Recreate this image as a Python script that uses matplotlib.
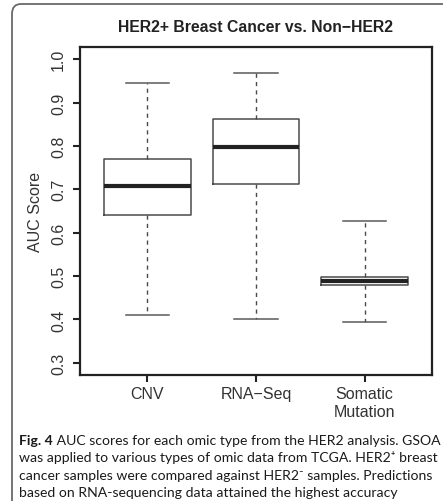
import matplotlib
matplotlib.use("Agg")
import matplotlib.pyplot as plt
from matplotlib.patches import FancyBboxPatch

# AUC summaries per omic type (box-and-whisker statistics)
categories = ["CNV", "RNA\u2212Seq", "Somatic\nMutation"]
whisker_low = [0.411, 0.402, 0.394]
quartile1 = [0.640, 0.712, 0.480]
medians = [0.708, 0.797, 0.489]
quartile3 = [0.770, 0.863, 0.499]
whisker_high = [0.946, 0.969, 0.626]
yticks = [0.3, 0.4, 0.5, 0.6, 0.7, 0.8, 0.9, 1.0]

caption_lines = [
    ("Fig. 4", " AUC scores for each omic type from the HER2 analysis. GSOA"),
    ("", "was applied to various types of omic data from TCGA. HER2\u207a breast"),
    ("", "cancer samples were compared against HER2\u207b samples. Predictions"),
    ("", "based on RNA-sequencing data attained the highest accuracy"),
]

W, H = 443, 502
fig = plt.figure(figsize=(W / 100, H / 100), dpi=100)

# rounded panel frame, running off the right and bottom edges
frame = FancyBboxPatch((12 / W, -0.2), 1.2, 1 - 5 / H + 0.2,
                       boxstyle="round,pad=0,rounding_size=0.02",
                       transform=fig.transFigure, facecolor="none",
                       edgecolor="#6a6a6a", linewidth=1.3, clip_on=False)
fig.patches.append(frame)

ax = fig.add_axes([80 / W, 1 - 376 / H, (432 - 80) / W, (376 - 48) / H])

stats = []
for i, name in enumerate(categories):
    stats.append(dict(label=name, whislo=whisker_low[i], q1=quartile1[i],
                      med=medians[i], q3=quartile3[i], whishi=whisker_high[i],
                      fliers=[]))

box_col = "#4a4a4a"
ax.bxp(stats, positions=[1, 2, 3], widths=0.8, capwidths=0.4,
       showfliers=False,
       boxprops=dict(color=box_col, linewidth=1.1),
       whiskerprops=dict(color=box_col, linewidth=1.0, linestyle=(0, (3, 3))),
       capprops=dict(color="#5a5a5a", linewidth=1.1),
       medianprops=dict(color="#222222", linewidth=3.0, solid_capstyle="butt"))

ax.set_xlim(0.38, 3.62)
ax.set_ylim(0.272, 1.028)
ax.set_yticks(yticks)
ax.set_yticklabels([f"{v:.1f}" for v in yticks], rotation=90, va="center",
                   fontsize=11.5, color="#333333", family="Liberation Sans")
ax.set_xticks([1, 2, 3])
ax.set_xticklabels(categories, fontsize=11.5, color="#333333",
                   family="Liberation Sans", linespacing=1.2)
ax.tick_params(axis="y", length=5, width=1.5, pad=5, color="#222222")
ax.tick_params(axis="x", length=5, width=1.5, pad=3, color="#222222")
for s in ax.spines.values():
    s.set_linewidth(1.6)
    s.set_color("#222222")

ax.set_ylabel("AUC Score", fontsize=11.5, color="#333333",
              family="Liberation Sans", labelpad=6)

fig.text(256 / W, 1 - 27 / H, "HER2+ Breast Cancer vs. Non\u2212HER2",
         ha="center", va="center", fontsize=11.3, fontweight="bold",
         color="#222222", family="Liberation Sans")

# caption beneath the plot; size chosen so the first line spans the panel
fam = ["Lato", "DejaVu Sans"]
renderer = fig.canvas.get_renderer()
probe_b = fig.text(0, 0, caption_lines[0][0], fontsize=10, fontweight="bold",
                   family=fam)
probe_r = fig.text(0, 0, caption_lines[0][1], fontsize=10, family=fam)
w10 = (probe_b.get_window_extent(renderer).width
       + probe_r.get_window_extent(renderer).width)
probe_b.remove()
probe_r.remove()
cap_size = 10 * (440 - 19) / w10

baseline0 = 445.0
for k, (bold, rest) in enumerate(caption_lines):
    y = 1 - (baseline0 + 17.3 * k) / H
    x = 19 / W
    if bold:
        t = fig.text(x, y, bold, ha="left", va="baseline", fontsize=cap_size,
                     fontweight="bold", family=fam, color="#1a1a1a")
        x = t.get_window_extent(renderer).x1 / W
    fig.text(x, y, rest, ha="left", va="baseline", fontsize=cap_size,
             family=fam, color="#1a1a1a")

fig.savefig("out.png", dpi=100)
